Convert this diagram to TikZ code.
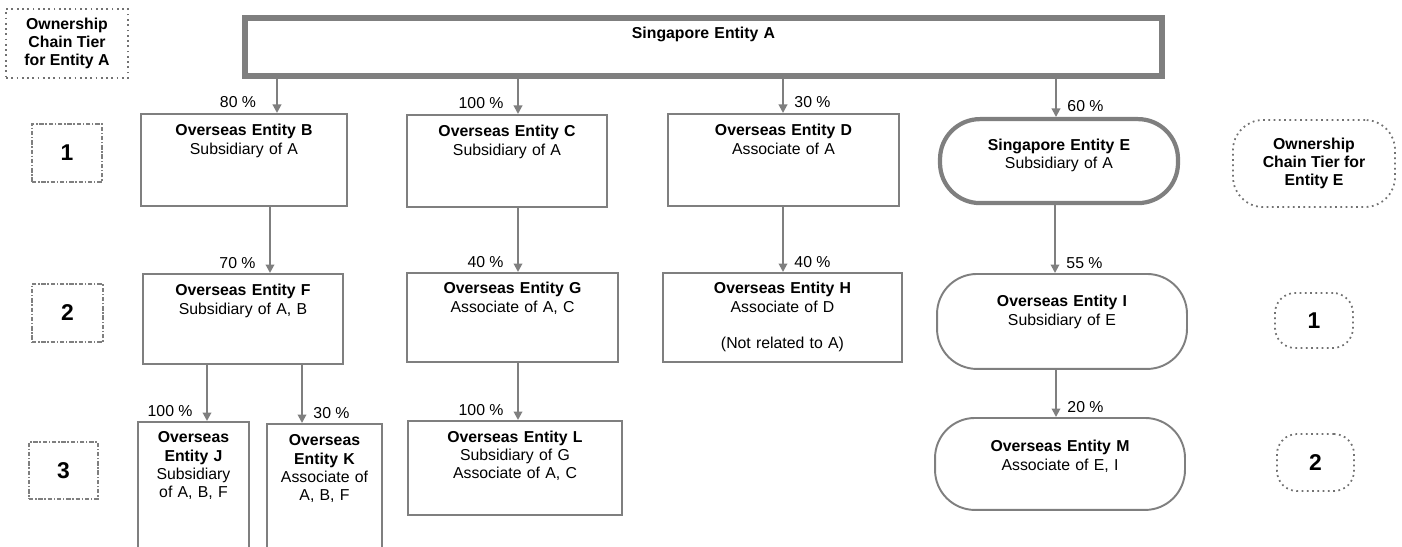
\documentclass[tikz,border=0pt]{standalone}
\usepackage{fontspec}
\setmainfont{Liberation Sans}
\usetikzlibrary{positioning, arrows.meta}
\definecolor{linegray}{HTML}{7F7F7F}

\begin{document}
\begin{tikzpicture}[x=0.02cm, y=-0.02cm,
      every node/.style={font=\fontsize{9}{10.3}\selectfont, align=center},
      ent/.style 2 args={draw=linegray, line width=1.1pt, anchor=north, inner xsep=0.1cm, inner ysep=0pt,
        text height=0.44cm, text width=#1, text depth=#2},
      rnd/.style={rounded corners=0.8cm},
      tierbox/.style={draw=linegray, line width=0.9pt, inner sep=0pt,
        dash pattern=on 2.5pt off 1pt on 0.8pt off 1pt},
      tierdot/.style={draw=linegray!90!black, line width=1pt, inner sep=0pt, dotted},
      num/.style={font=\fontsize{13}{15}\selectfont\bfseries},
      head/.style={font=\fontsize{9}{10.3}\selectfont\bfseries},
      arr/.style={draw=linegray, line width=1.1pt, -{Triangle[length=1.7mm, width=1.7mm]}},
      pl/.style={anchor=base east, inner sep=0pt, xshift=-0.27cm, yshift=0.1cm},
      pr/.style={anchor=base west, inner sep=0pt, xshift=0.21cm, yshift=0.1cm}]
    \useasboundingbox (0,0) rectangle (1402,547);
    \clip (0,0) rectangle (1402,547);

    % tiers
    \node[tierdot, head, minimum width=2.44cm, minimum height=1.38cm] (tierA) at (67,43.5) {Ownership\\Chain Tier\\for Entity A};
    \node[tierbox, num, minimum width=1.4cm, minimum height=1.16cm] (tA1) at (67,153) {1};
    \node[tierbox, num, minimum width=1.42cm, minimum height=1.16cm] (tA2) at (67.5,313) {2};
    \node[tierbox, num, minimum width=1.38cm, minimum height=1.14cm] (tA3) at (63.5,470.5) {3};
    \node[tierdot, head, rounded corners=0.6cm, minimum width=3.24cm, minimum height=1.74cm] (tierE) at (1314,163.5) {Ownership\\Chain Tier for\\Entity E};
    \node[tierdot, num, rounded corners=0.4cm, minimum width=1.56cm, minimum height=1.1cm] (tE1) at (1314,320.5) {1};
    \node[tierdot, num, rounded corners=0.4cm, minimum width=1.54cm, minimum height=1.14cm] (tE2) at (1315.5,462.5) {2};

    % entities
    \node[ent={18.14cm}{0.75cm}, line width=3.2pt, text height=0.41cm] (A) at (703.5,15.5) {\textbf{Singapore Entity A}};
    \node[ent={3.92cm}{1.40cm}] (B) at (244,113) {\textbf{Overseas Entity B}\\Subsidiary of A};
    \node[ent={3.8cm}{1.40cm}] (C) at (507,114) {\textbf{Overseas Entity C}\\Subsidiary of A};
    \node[ent={4.42cm}{1.40cm}] (D) at (783.5,113) {\textbf{Overseas Entity D}\\Associate of A};
    \node[ent={4.56cm}{1.05cm}, rnd, line width=2.4pt, text height=0.63cm] (E) at (1059,117) {\textbf{Singapore Entity E}\\Subsidiary of A};
    \node[ent={3.8cm}{1.36cm}] (F) at (243,273) {\textbf{Overseas Entity F}\\Subsidiary of A, B};
    \node[ent={4.02cm}{1.36cm}, text height=0.42cm] (G) at (512.5,272) {\textbf{Overseas Entity G}\\Associate of A, C};
    \node[ent={4.58cm}{1.36cm}, text height=0.42cm] (H) at (782.5,272) {\textbf{Overseas Entity H}\\Associate of D\\~\\(Not related to A)};
    \node[ent={4.8cm}{1.24cm}, rnd, text height=0.66cm] (I) at (1062,273) {\textbf{Overseas Entity I}\\Subsidiary of E};
    \node[ent={2.02cm}{2.6cm}, text height=0.42cm] (J) at (193.5,421) {\textbf{Overseas}\\\textbf{Entity J}\\Subsidiary\\of A, B, F};
    \node[ent={2.1cm}{2.6cm}] (K) at (324.5,423) {\textbf{Overseas}\\\textbf{Entity K}\\Associate of\\A, B, F};
    \node[ent={4.08cm}{1.45cm}, text height=0.43cm] (L) at (515,420) {\textbf{Overseas Entity L}\\Subsidiary of G\\Associate of A, C};
    \node[ent={4.8cm}{1.16cm}, rnd, text height=0.68cm] (M) at (1060,417) {\textbf{Overseas Entity M}\\Associate of E, I};

    % ownership arrows
    \coordinate (inB) at ([xshift=0.66cm]B.north);
    \coordinate (inC) at ([xshift=0.22cm]C.north);
    \coordinate (inD) at ([xshift=-0.01cm]D.north);
    \coordinate (inE) at ([xshift=-0.06cm]E.north);
    \coordinate (inF) at ([xshift=0.54cm]F.north);
    \coordinate (inG) at ([xshift=0.11cm]G.north);
    \coordinate (inH) at ([xshift=0.01cm]H.north);
    \coordinate (inI) at ([xshift=-0.14cm]I.north);
    \coordinate (inJ) at ([xshift=0.27cm]J.north);
    \coordinate (inK) at ([xshift=-0.45cm]K.north);
    \coordinate (inL) at ([xshift=0.06cm]L.north);
    \coordinate (inM) at ([xshift=-0.08cm]M.north);
    \draw[arr] (A.south -| inB) -- (inB) node[pl, xshift=-0.13cm] {80 \%};
    \draw[arr] (A.south -| inC) -- (inC) node[pl] {100 \%};
    \draw[arr] (A.south -| inD) -- (inD) node[pr] {30 \%};
    \draw[arr] (A.south -| inE) -- (inE) node[pr] {60 \%};
    \draw[arr] (B.south -| inF) -- (inF) node[pl] {70 \%};
    \draw[arr] (C.south -| inG) -- (inG) node[pl] {40 \%};
    \draw[arr] (D.south -| inH) -- (inH) node[pr] {40 \%};
    \draw[arr] (E.south -| inI) -- (inI) node[pr] {55 \%};
    \draw[arr] (F.south -| inJ) -- (inJ) node[pl] {100 \%};
    \draw[arr] (F.south -| inK) -- (inK) node[pr] {30 \%};
    \draw[arr] (G.south -| inL) -- (inL) node[pl] {100 \%};
    \draw[arr] (I.south -| inM) -- (inM) node[pr] {20 \%};
  \end{tikzpicture}
\end{document}
